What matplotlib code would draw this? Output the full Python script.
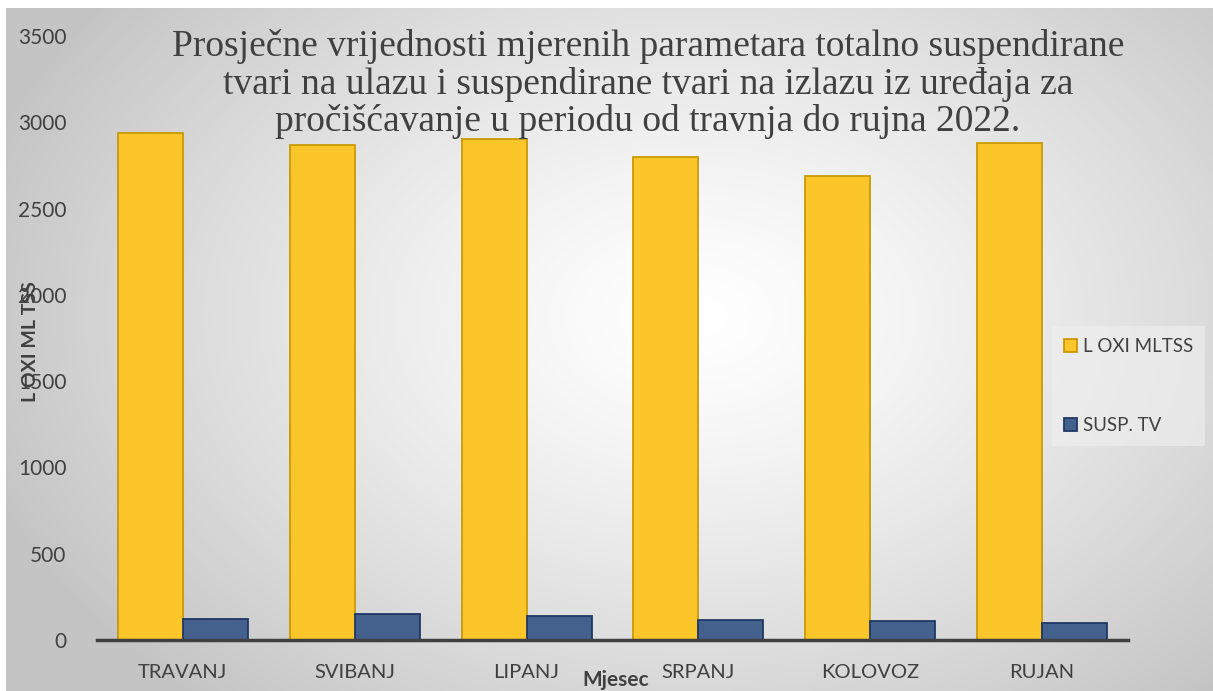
import numpy as np
import matplotlib
matplotlib.use("Agg")
import matplotlib.pyplot as plt

months = ["TRAVANJ", "SVIBANJ", "LIPANJ", "SRPANJ", "KOLOVOZ", "RUJAN"]
loxi = [2936, 2866, 2903, 2797, 2690, 2881]
susp = [123, 152, 141, 118, 112, 98]
series_names = ["L OXI MLTSS", "SUSP. TV"]
title = ("Prosječne vrijednosti mjerenih parametara totalno suspendirane\n"
         "tvari na ulazu i suspendirane tvari na izlazu iz uređaja za\n"
         "pročišćavanje u periodu od travnja do rujna 2022.")

W, H = 1213, 691
fig = plt.figure(figsize=(W / 100, H / 100), dpi=100, facecolor="white")

# gradient background
bg = fig.add_axes([6 / W, 0, 1 - 6 / W, 1 - 8 / H])
bg.set_axis_off()
ny, nx = 300, 500
yy, xx = np.mgrid[0:ny, 0:nx]
cx, cy = 0.57 * nx, 0.45 * ny
r = np.sqrt(((xx - cx) / (0.62 * nx)) ** 2 + ((yy - cy) / (0.75 * ny)) ** 2)
r = np.clip(r, 0, 1)
val = 1.0 - 0.23 * r ** 1.3
img = np.dstack([val, val, val])
bg.imshow(img, aspect="auto", extent=[0, 1, 0, 1], interpolation="bilinear")
bg.set_xlim(0, 1)
bg.set_ylim(0, 1)

ax = fig.add_axes([97 / W, (H - 640) / H, (1128 - 97) / W, (640 - 36) / H])
ax.patch.set_alpha(0)

x = np.arange(len(months))
w = 0.378
ax.bar(x - w / 2, loxi, w, color="#FCC62A", edgecolor="#C99A06", linewidth=1.3,
       label=series_names[0])
ax.bar(x + w / 2, susp, w, color="#44608C", edgecolor="#1F3864", linewidth=1.3,
       label=series_names[1])

ax.set_xlim(-0.5, len(months) - 0.5)
ax.set_ylim(0, 3500)
ax.set_yticks(range(0, 3501, 500))
ax.set_xticks(x)
ax.set_xticklabels(months)
for s in ["top", "right", "left"]:
    ax.spines[s].set_visible(False)
ax.spines["bottom"].set_color("#404040")
ax.spines["bottom"].set_linewidth(2.5)
ax.tick_params(axis="both", length=0, labelcolor="#404040")
ax.tick_params(axis="y", pad=22, labelsize=15)
ax.tick_params(axis="x", pad=17, labelsize=14.5)
for lab in ax.get_xticklabels() + ax.get_yticklabels():
    lab.set_fontfamily("Lato")

fig.text(30 / W, 1 - 342 / H, "L OXI ML TSS", rotation=90, ha="center", va="center",
         fontsize=14, fontweight="bold", color="#404040", family="Lato")
fig.text(616 / W, 1 - 680 / H, "Mjesec", ha="center", va="center",
         fontsize=15, fontweight="bold", color="#404040", family="Lato")

fig.text(648 / W, 1 - 84 / H, title, ha="center", va="center", fontsize=27,
         color="#404040", family="Liberation Serif", linespacing=1.1)

leg = ax.legend(loc="center left", bbox_to_anchor=(1052 / W, 1 - 386 / H),
                bbox_transform=fig.transFigure, frameon=True, fancybox=False,
                prop={"family": "Lato", "size": 13.5}, labelspacing=3.3,
                handlelength=0.7, handleheight=0.7, handletextpad=0.3,
                borderpad=0.65, borderaxespad=0)
leg.get_frame().set_facecolor("#f0f0f0")
leg.get_frame().set_alpha(0.6)
leg.get_frame().set_edgecolor("none")
for t in leg.get_texts():
    t.set_color("#404040")

fig.savefig("out.png", dpi=100, facecolor="white")
